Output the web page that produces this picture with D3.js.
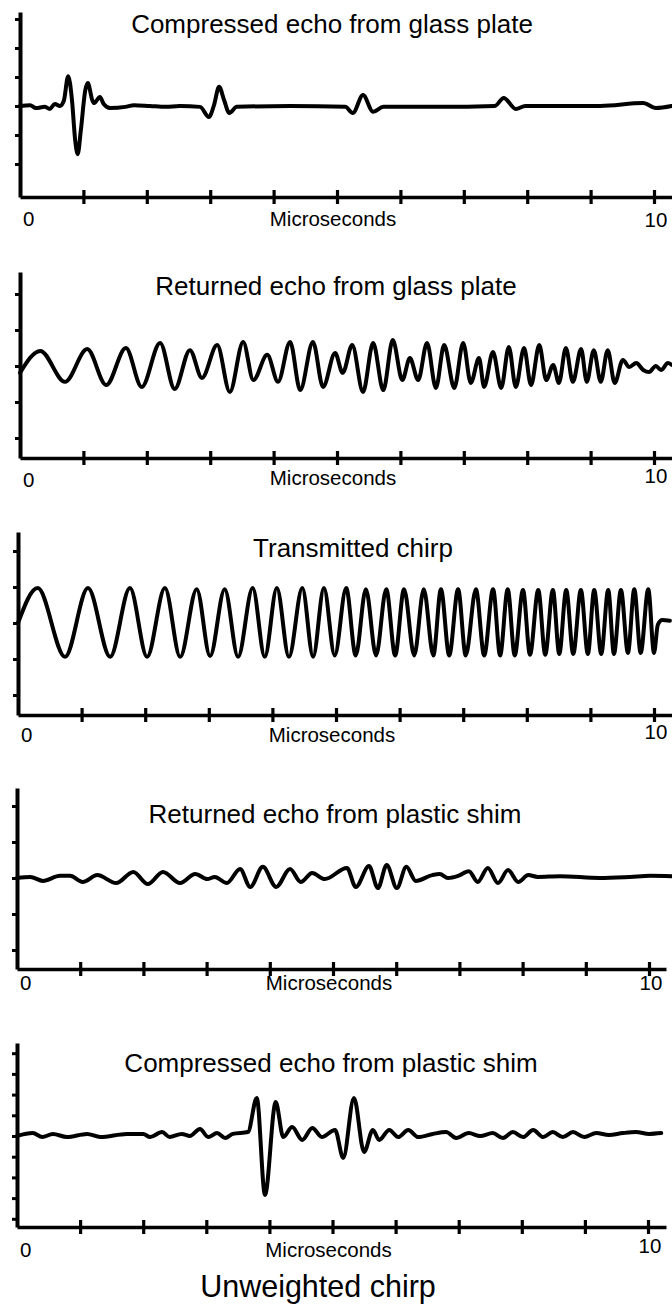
<!DOCTYPE html>
<html>
<head>
<meta charset="utf-8">
<script src="https://cdn.jsdelivr.net/npm/d3@7"></script>
<style>
  body { margin: 0; background: #fff; }
  svg { display: block; font-family: "Liberation Sans", Arial, Helvetica, sans-serif; }
</style>
</head>
<body>
<svg id="chart" width="672" height="1310"></svg>
<script>
// [time in microseconds, amplitude in y-tick divisions]
const compressedGlass = [
  [0, 0], [0.16, 0.03], [0.25, -0.07], [0.39, -0.03], [0.47, -0.1], [0.55, 0.07], [0.63, 0],
  [0.69, 0.17], [0.76, 1.03], [0.82, 0.2], [0.87, -1.17], [0.91, -1.66], [0.96, -0.83],
  [1.03, 0.55], [1.07, 0.79], [1.14, 0.2], [1.17, 0.1], [1.26, 0.31], [1.32, 0.07], [1.42, -0.07],
  [1.66, -0.03], [1.8, 0.03], [2.05, 0], [2.3, -0.03], [2.52, 0], [2.84, -0.03], [2.98, -0.38],
  [3.06, 0.03], [3.14, 0.66], [3.22, 0.2], [3.3, -0.24], [3.42, -0.03], [4.26, 0], [5.13, -0.03],
  [5.25, -0.24], [5.41, 0.38], [5.57, -0.2], [5.73, -0.03], [6.62, -0.03], [7.49, 0], [7.63, 0.28],
  [7.82, -0.1], [7.97, 0], [9.15, 0], [9.83, 0.1], [10.03, -0.07], [10.28, 0]
];

const returnedGlass = [
  [0, -0.19], [0.32, 0.42], [0.71, -0.44], [1.06, 0.47], [1.36, -0.53], [1.67, 0.5], [1.92, -0.58],
  [2.21, 0.64], [2.44, -0.64], [2.68, 0.44], [2.87, -0.33], [3.11, 0.58], [3.31, -0.72], [3.52, 0.67],
  [3.68, -0.39], [3.9, 0.31], [4.07, -0.44], [4.26, 0.67], [4.42, -0.67], [4.62, 0.67], [4.78, -0.58],
  [4.97, 0.36], [5.09, -0.19], [5.24, 0.58], [5.41, -0.72], [5.57, 0.64], [5.73, -0.67], [5.88, 0.72],
  [6.03, -0.39], [6.15, 0.22], [6.28, -0.39], [6.42, 0.64], [6.56, -0.61], [6.69, 0.58], [6.85, -0.61],
  [6.99, 0.64], [7.11, -0.47], [7.24, 0.22], [7.32, -0.58], [7.46, 0.39], [7.59, -0.61], [7.71, 0.53],
  [7.82, -0.58], [7.95, 0.5], [8.06, -0.53], [8.19, 0.58], [8.3, -0.39], [8.41, 0.03], [8.5, -0.47],
  [8.61, 0.5], [8.72, -0.44], [8.85, 0.47], [8.94, -0.44], [9.05, 0.44], [9.16, -0.44], [9.27, 0.44],
  [9.38, -0.47], [9.51, 0.17], [9.61, -0.03], [9.72, 0.08], [9.83, -0.11], [9.92, -0.17], [10.03, 0],
  [10.11, -0.11], [10.22, 0.08], [10.28, 0.03]
];

const transmittedChirp = [
  [0, 0], [0.31, 0.97], [0.74, -0.94], [1.1, 0.97], [1.45, -0.94], [1.76, 0.97], [2.03, -0.94],
  [2.31, 0.97], [2.55, -0.94], [2.81, 0.94], [3.02, -0.92], [3.25, 0.94], [3.46, -0.94], [3.69, 0.97],
  [3.88, -0.94], [4.07, 0.97], [4.26, -0.94], [4.47, 0.97], [4.64, -0.94], [4.81, 0.97], [4.98, -0.9],
  [5.16, 0.97], [5.31, -0.9], [5.47, 0.94], [5.63, -0.9], [5.79, 0.94], [5.93, -0.9], [6.07, 0.94],
  [6.23, -0.9], [6.38, 0.94], [6.53, -0.9], [6.65, 0.94], [6.78, -0.9], [6.92, 0.94], [7.04, -0.9],
  [7.2, 0.94], [7.33, -0.9], [7.47, 0.94], [7.58, -0.9], [7.7, 0.94], [7.81, -0.9], [7.94, 0.92],
  [8.05, -0.88], [8.18, 0.92], [8.29, -0.88], [8.41, 0.92], [8.51, -0.86], [8.62, 0.92], [8.73, -0.86],
  [8.85, 0.92], [8.96, -0.86], [9.06, 0.92], [9.17, -0.86], [9.28, 0.92], [9.37, -0.86], [9.48, 0.92],
  [9.59, -0.83], [9.69, 0.94], [9.79, -0.83], [9.91, 0.94], [10.0, -0.83], [10.06, -0.05],
  [10.13, 0.08], [10.25, 0.06]
];

const returnedShim = [
  [0, 0], [0.21, 0.03], [0.41, -0.08], [0.68, 0.06], [0.84, 0.06], [1.04, -0.11], [1.27, 0.08],
  [1.57, -0.14], [1.84, 0.17], [2.07, -0.17], [2.31, 0.17], [2.58, -0.14], [2.82, 0.11], [3.01, -0.03],
  [3.13, 0.03], [3.32, -0.14], [3.53, 0.25], [3.69, -0.25], [3.89, 0.31], [4.1, -0.25], [4.32, 0.25],
  [4.49, -0.11], [4.67, 0.14], [4.87, -0.03], [5.22, 0.28], [5.36, -0.25], [5.57, 0.33], [5.71, -0.28],
  [5.85, 0.36], [6.01, -0.28], [6.16, 0.31], [6.31, -0.08], [6.57, 0.08], [6.69, 0.11], [6.82, 0],
  [6.98, 0.06], [7.15, 0.19], [7.29, -0.11], [7.45, 0.28], [7.61, -0.14], [7.77, 0.22], [7.93, -0.11],
  [8.09, 0.08], [8.24, 0.03], [8.59, 0.05], [9.22, 0], [9.7, 0.03], [10.02, 0.06], [10.36, 0.05]
];

const compressedShim = [
  [0, 0], [0.25, 0.14], [0.4, -0.05], [0.57, 0.1], [0.79, -0.05], [1.11, 0.1], [1.32, -0.05],
  [1.74, 0.1], [2.0, 0.1], [2.11, -0.05], [2.3, 0.19], [2.42, -0.05], [2.61, 0.1], [2.74, 0],
  [2.9, 0.34], [3.03, -0.05], [3.17, 0.14], [3.3, -0.1], [3.42, 0.1], [3.66, 0.19], [3.8, 1.84],
  [3.93, -2.85], [4.1, 1.64], [4.22, -0.05], [4.36, 0.43], [4.52, -0.19], [4.68, 0.39], [4.83, -0.05],
  [5.04, 0.29], [5.17, -1.06], [5.34, 1.84], [5.5, -0.77], [5.64, 0.29], [5.74, -0.19], [5.9, 0.29],
  [6.04, -0.05], [6.2, 0.29], [6.36, -0.05], [6.59, 0.1], [6.8, 0.19], [6.96, -0.1], [7.16, 0.14],
  [7.34, 0], [7.54, 0.14], [7.7, -0.1], [7.86, 0.19], [8.02, -0.05], [8.18, 0.29], [8.34, -0.05],
  [8.49, 0.19], [8.65, -0.05], [8.81, 0.19], [8.99, -0.05], [9.18, 0.14], [9.38, 0.05], [9.6, 0.14],
  [9.81, 0.19], [10.02, 0.1], [10.21, 0.14]
];

const titles = [
  "Compressed echo from glass plate",
  "Returned echo from glass plate",
  "Transmitted chirp",
  "Returned echo from plastic shim",
  "Compressed echo from plastic shim"
];
const figureTitle = "Unweighted chirp";
const xTicks = [1, 2, 3, 4, 5, 6, 7, 8, 9, 10];
const xLabels = ["0", "Microseconds", "10"];
const yTicksGlassEcho = [3, 2, 1, 0, -1, -2];
const yTicksWave = [2, 1, 0, -1, -2];
const yTicksShimEcho = [4, 3, 2, 1, 0, -1, -2, -3, -4];

// layout of each oscilloscope panel (pixels)
const panels = [
  {data: compressedGlass, yTicks: yTicksGlassEcho, top: 12, base: 106, div: 29, bottom: 197,
   x0: 20, x10: 654, right: 672, titleX: 332, titleY: 33, labelY: [226, 226, 227]},
  {data: returnedGlass, yTicks: yTicksWave, top: 272, base: 366, div: 36, bottom: 458,
   x0: 20, x10: 654, right: 672, titleX: 336, titleY: 295, labelY: [487, 485, 483]},
  {data: transmittedChirp, yTicks: yTicksWave, top: 532, base: 623, div: 36, bottom: 715,
   x0: 18, x10: 654, right: 672, titleX: 353, titleY: 557, labelY: [742, 742, 739]},
  {data: returnedShim, yTicks: yTicksWave, top: 788, base: 878, div: 36, bottom: 969,
   x0: 17, x10: 649, right: 666, titleX: 335, titleY: 823, labelY: [990, 990, 990]},
  {data: compressedShim, yTicks: yTicksShimEcho, top: 1043, base: 1136, div: 20.7, bottom: 1227,
   x0: 17, x10: 648, right: 666, titleX: 331, titleY: 1072, labelY: [1257, 1257, 1253]}
];

const svg = d3.select("#chart");

panels.forEach((p, i) => {
    let g = svg.append("g");

    let x = d3.scaleLinear().domain([0, 10]).range([p.x0, p.x10]);
    let y = d3.scaleLinear().domain([0, 1]).range([p.base, p.base - p.div]);
    // axis scales stretch past 10 us and cover the full graticule height
    let xa = x.copy().domain([0, x.invert(p.right)]).range([p.x0, p.right]);
    let ya = y.copy().domain([y.invert(p.bottom), y.invert(p.top)]).range([p.bottom, p.top]);

    g.append("g")
        .attr("transform", `translate(0,${p.bottom})`)
        .call(d3.axisBottom(xa).tickValues(xTicks).tickSize(7).tickSizeOuter(0).tickFormat(""))
        .call(a => a.selectAll(".tick line").attr("y1", -7).attr("stroke-width", 3.2))
        .call(a => a.select(".domain").attr("stroke-width", 3.5));

    g.append("g")
        .attr("transform", `translate(${p.x0},0)`)
        .call(d3.axisLeft(ya).tickValues(p.yTicks).tickSize(5).tickSizeOuter(0).tickFormat(""))
        .call(a => a.selectAll(".tick line").attr("x1", 2).attr("stroke-width", 3))
        .call(a => a.select(".domain").attr("stroke-width", 4));

    let line = d3.line()
        .x(d => x(d[0]))
        .y(d => y(d[1]))
        .curve(d3.curveMonotoneX);

    g.append("path")
        .datum(p.data)
        .attr("d", line)
        .attr("fill", "none")
        .attr("stroke", "#000")
        .attr("stroke-width", 4)
        .attr("stroke-linejoin", "round")
        .attr("stroke-linecap", "round");

    g.append("text")
        .attr("x", p.titleX)
        .attr("y", p.titleY)
        .attr("text-anchor", "middle")
        .attr("font-size", 26)
        .text(titles[i]);

    g.append("text")
        .attr("x", x(0) + 3)
        .attr("y", p.labelY[0])
        .attr("font-size", 20.5)
        .text(xLabels[0]);

    g.append("text")
        .attr("x", x(5) - 4)
        .attr("y", p.labelY[1])
        .attr("text-anchor", "middle")
        .attr("font-size", 20.5)
        .text(xLabels[1]);

    g.append("text")
        .attr("x", x(10) + 2)
        .attr("y", p.labelY[2])
        .attr("text-anchor", "middle")
        .attr("font-size", 20.5)
        .text(xLabels[2]);
});

svg.append("text")
    .attr("x", 318)
    .attr("y", 1297)
    .attr("text-anchor", "middle")
    .attr("font-size", 30.5)
    .text(figureTitle);
</script>
</body>
</html>
